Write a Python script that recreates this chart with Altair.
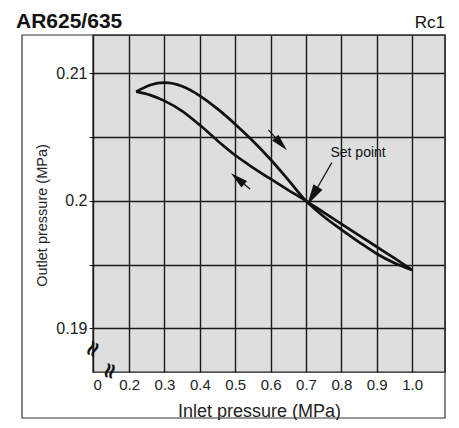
import altair as alt
import pandas as pd

# ---------------- data ----------------
BRANCH_X = [0.220, 0.26, 0.30, 0.35, 0.40, 0.45, 0.50, 0.55, 0.60, 0.65, 0.70,
            0.75, 0.80, 0.85, 0.90, 0.95, 1.00]
UP_Y = [0.20857, 0.20910, 0.20928, 0.20900, 0.20825, 0.20722, 0.20602, 0.20470,
        0.20325, 0.20165, 0.20000, 0.19878, 0.19775, 0.19677, 0.19585, 0.19512, 0.19458]
DOWN_Y = [0.20857, 0.20830, 0.20785, 0.20705, 0.20595, 0.20472, 0.20358, 0.20262,
          0.20172, 0.20085, 0.20000, 0.19910, 0.19820, 0.19730, 0.19640, 0.19550, 0.19458]

X_DOMAIN = [0.098, 1.093]
Y_DOMAIN = [0.18657, 0.21302]
X_TICKS = [0.098, 0.2, 0.3, 0.4, 0.5, 0.6, 0.7, 0.8, 0.9, 1.0]
Y_TICKS = [0.19, 0.195, 0.2, 0.205, 0.21]

# direction arrows: shaft start (x, y), head centre (hx, hy), head angle, head size
ARROW_X = [0.5938, 0.542, 0.773]
ARROW_Y = [0.20557, 0.20093, 0.2030]
HEAD_X = [0.6297, 0.5067, 0.7187]
HEAD_Y = [0.20447, 0.20174, 0.20038]
HEAD_ANGLE = [137, 310, 211]
HEAD_SIZE = [300, 300, 440]

SET_POINT_LABEL = ["Set point"]
SET_POINT_X = [0.8473]
SET_POINT_Y = [0.20376]

TITLE = "AR625/635"
SUBTITLE = "Rc1"
X_TITLE = "Inlet pressure (MPa)"
Y_TITLE = "Outlet pressure (MPa)"

FONT = "Liberation Sans"

# ---------------- tables ----------------
curves = pd.DataFrame({
    "x": BRANCH_X + BRANCH_X,
    "y": UP_Y + DOWN_Y,
    "branch": ["up"] * len(BRANCH_X) + ["down"] * len(BRANCH_X),
})
arrows = pd.DataFrame({"x": ARROW_X, "y": ARROW_Y, "x2": HEAD_X, "y2": HEAD_Y,
                       "angle": HEAD_ANGLE, "size": HEAD_SIZE})
labels = pd.DataFrame({"x": SET_POINT_X, "y": SET_POINT_Y, "t": SET_POINT_LABEL})
one = pd.DataFrame({"a": [0]})

xs = alt.Scale(domain=X_DOMAIN, nice=False, zero=False)
ys = alt.Scale(domain=Y_DOMAIN, nice=False, zero=False)

x_axis = alt.Axis(
    values=X_TICKS, format=".1f",
    labelExpr="datum.value < 0.15 ? '0' : datum.label",
    title=X_TITLE, grid=True, gridColor="#1a1a1a", gridWidth=1.4,
    ticks=False, domain=False, labelFontSize=15, labelPadding=5,
    labelColor="#222", titleFontSize=18, titleFontWeight="normal",
    titleColor="#222", titleX=166, titleY=44, titleBaseline="alphabetic",
    labelFont=FONT, titleFont=FONT,
)
y_axis = alt.Axis(
    values=Y_TICKS, format=".3~f",
    labelExpr="(round(datum.value*1000) % 10 == 5) ? '' : datum.label",
    title=Y_TITLE, grid=True, gridColor="#1a1a1a", gridWidth=1.4,
    ticks=True, tickSize=4, tickColor="#1a1a1a", domain=False,
    labelFontSize=16, labelPadding=2, labelColor="#222",
    titleFontSize=14.5, titleFontWeight="normal", titleColor="#222",
    titleAngle=270, titleX=-51, titleY=180, titleAlign="center",
    titleBaseline="middle", labelFont=FONT, titleFont=FONT,
)

X = alt.X("x:Q", scale=xs, axis=x_axis)
Y = alt.Y("y:Q", scale=ys, axis=y_axis)

lines = alt.Chart(curves).mark_line(
    color="#111", strokeWidth=2.7, interpolate="monotone"
).encode(x=X, y=Y, detail="branch:N")

shafts = alt.Chart(arrows).mark_rule(color="#111", strokeWidth=1.2).encode(
    x=X, y=Y, x2="x2:Q", y2="y2:Q"
)
heads = alt.Chart(arrows).mark_point(
    shape="M0,-1L0.5,1L-0.5,1Z", filled=True, color="#111", opacity=1
).encode(
    x=alt.X("x2:Q", scale=xs, axis=x_axis),
    y=alt.Y("y2:Q", scale=ys, axis=y_axis),
    angle=alt.Angle("angle:Q", scale=None),
    size=alt.Size("size:Q", scale=None, legend=None),
)

set_text = alt.Chart(labels).mark_text(
    font=FONT, fontSize=14, color="#111", align="center", baseline="middle"
).encode(x=X, y=Y, text="t:N")

# outer frame of the figure box
frame = alt.Chart(one).mark_rect(
    fill="transparent", stroke="#333", strokeWidth=1.2
).encode(x=alt.value(-71), x2=alt.value(352), y=alt.value(0), y2=alt.value(383))

title_t = alt.Chart(one).mark_text(
    font=FONT, fontSize=21, fontWeight="bold", color="#111",
    align="left", baseline="alphabetic"
).encode(x=alt.value(-77), y=alt.value(-7), text=alt.value(TITLE))
sub_t = alt.Chart(one).mark_text(
    font=FONT, fontSize=17, color="#111", align="right", baseline="alphabetic"
).encode(x=alt.value(352), y=alt.value(-7), text=alt.value(SUBTITLE))

ybreak = alt.Chart(one).mark_text(
    font="DejaVu Sans", fontSize=22, fontWeight="bold", color="#111", angle=115,
    align="center", baseline="middle"
).encode(x=alt.value(0), y=alt.value(314), text=alt.value("≈"))
xbreak = alt.Chart(one).mark_text(
    font="DejaVu Sans", fontSize=22, fontWeight="bold", color="#111", angle=105,
    align="center", baseline="middle"
).encode(x=alt.value(17), y=alt.value(336), text=alt.value("≈"))

chart = alt.layer(
    frame, lines, shafts, heads, set_text,
    title_t, sub_t, ybreak, xbreak,
).properties(
    width=352, height=337,
    autosize=alt.AutoSizeParams(type="none"),
    padding={"left": 85, "top": 27, "right": 6, "bottom": 48},
).configure(
    background="white",
    view=alt.ViewConfig(fill="#dedede", stroke="#1a1a1a", strokeWidth=1.4),
)

chart.save("out.html", embed_options={"renderer": "svg", "actions": False})
